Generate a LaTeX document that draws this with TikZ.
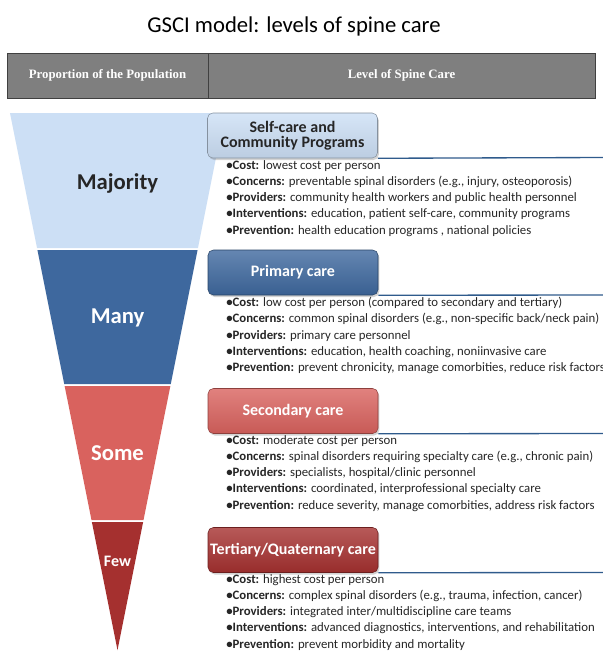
\documentclass[tikz,border=0pt]{standalone}
\usepackage{fontspec}
\setmainfont{Carlito}
\newfontfamily\headfont{Liberation Serif}
\usetikzlibrary{positioning,shadows}

\definecolor{majority}{HTML}{CCDFF5}
\definecolor{many}{HTML}{3E689E}
\definecolor{some}{HTML}{D9625E}
\definecolor{few}{HTML}{A5302F}
\definecolor{barfill}{HTML}{7F7F7F}
\definecolor{rulecol}{HTML}{2F5B8C}
\definecolor{bodytext}{HTML}{262626}

\newcommand{\bul}[1]{\textbf{\textbullet#1:}}

\tikzset{
  levelbox/.style={draw=#1!65!black, rounded corners=4pt, minimum width=127.5pt, minimum height=33.75pt,
    inner xsep=1pt, align=center, font=\fontsize{12}{11.5}\selectfont\bfseries,
    top color=#1!80!white, bottom color=#1!92!black,
    drop shadow={opacity=0.35, shadow xshift=1pt, shadow yshift=-1.5pt}},
  bullets/.style={anchor=north west, inner sep=0pt, align=left, text=bodytext, font=\fontsize{9.6}{12.2}\selectfont},
  bandlabel/.style={font=\fontsize{17}{17}\selectfont\bfseries},
  headcell/.style={draw=black!75, fill=barfill, text=white, minimum height=33.75pt, inner sep=0pt, outer sep=0pt,
    font=\headfont\fontsize{9.6}{11}\selectfont\bfseries},
  hline/.style={draw=rulecol, line width=1pt},
}

\begin{document}
\begin{tikzpicture}[x=0.75pt,y=-0.75pt]
  \useasboundingbox (0,0) rectangle (603,654);
  \clip (0,0) rectangle (603,654);

  \node[font=\fontsize{17}{17}\selectfont] (title) at (294,26) {GSCI model: levels of spine care};

  % header bar
  \node[headcell, minimum width=150.75pt] (head-pop) at (107.5,75.5) {Proportion of the Population};
  \node[headcell, minimum width=290.25pt] (head-level) [right=0pt of head-pop] {Level of Spine Care};

  % funnel bands
  \foreach \ytop/\ybot/\col in {113/248/majority, 250/384/many, 386/520/some, 522/650/few} {
    \fill[\col] ({117.5-0.2002*(650-\ytop)},\ytop) -- ({117.5+0.2002*(650-\ytop)},\ytop)
      -- ({117.5+0.2002*(650-\ybot)},\ybot) -- ({117.5-0.2002*(650-\ybot)},\ybot) -- cycle;
  }

  \node[bandlabel, text=black!85] (lbl-majority) at (117.5,183) {Majority};
  \node[bandlabel, text=white] (lbl-many) at (117.5,318) {Many};
  \node[bandlabel, text=white] (lbl-some) at (117.5,453) {Some};
  \node[bandlabel, text=white, font=\fontsize{12}{12}\selectfont\bfseries] (lbl-few) at (117.5,561) {Few};

  % level boxes
  \node[levelbox=majority, text=black!85] (lvl-self) at (292.5,135.5) {Self-care and\\ Community Programs};
  \node[levelbox=many, text=white] (lvl-primary) at (293,272.5) {Primary care};
  \node[levelbox=some, text=white] (lvl-secondary) at (293,411) {Secondary care};
  \node[levelbox=few, text=white] (lvl-tertiary) at (293,550) {Tertiary/Quaternary care};

  \coordinate (end-self) at (603,157.5);
  \coordinate (end-primary) at (603,295);
  \coordinate (end-secondary) at (603,433.5);
  \coordinate (end-tertiary) at (603,572.5);
  \foreach \t in {self,primary,secondary,tertiary} {
    \draw[hline] (lvl-\t.south east) -- (end-\t);
  }

  % bullet lists
  \node[bullets] (txt-self) at (226,160) {\bul{Cost} lowest cost per person\\
    \bul{Concerns} preventable spinal disorders (e.g., injury, osteoporosis)\\
    \bul{Providers} community health workers and public health personnel\\
    \bul{Interventions} education, patient self-care, community programs\\
    \bul{Prevention} health education programs , national policies};
  \node[bullets] (txt-primary) at (226,297) {\bul{Cost} low cost per person (compared to secondary and tertiary)\\
    \bul{Concerns} common spinal disorders (e.g., non-specific back/neck pain)\\
    \bul{Providers} primary care personnel\\
    \bul{Interventions} education, health coaching, noniinvasive care\\
    \bul{Prevention} prevent chronicity, manage comorbities, reduce risk factors};
  \node[bullets] (txt-secondary) at (226,435) {\bul{Cost} moderate cost per person\\
    \bul{Concerns} spinal disorders requiring specialty care (e.g., chronic pain)\\
    \bul{Providers} specialists, hospital/clinic personnel\\
    \bul{Interventions} coordinated, interprofessional specialty care\\
    \bul{Prevention} reduce severity, manage comorbities, address risk factors};
  \node[bullets] (txt-tertiary) at (226,574) {\bul{Cost} highest cost per person\\
    \bul{Concerns} complex spinal disorders (e.g., trauma, infection, cancer)\\
    \bul{Providers} integrated inter/multidiscipline care teams\\
    \bul{Interventions} advanced diagnostics, interventions, and rehabilitation\\
    \bul{Prevention} prevent morbidity and mortality};
\end{tikzpicture}
\end{document}
